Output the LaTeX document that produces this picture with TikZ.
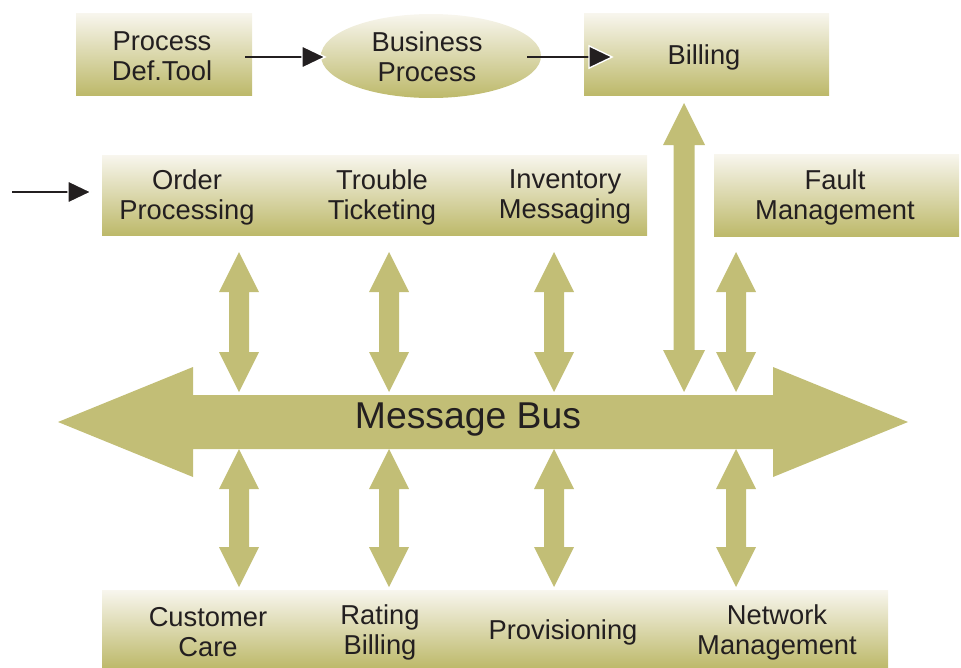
\documentclass[tikz,border=0pt]{standalone}
\usepackage{fontspec}
\setmainfont{Liberation Sans}
\usetikzlibrary{arrows.meta,shapes.geometric}
\definecolor{olive}{RGB}{194,190,118}
\definecolor{boxtop}{RGB}{248,246,238}
\definecolor{boxbot}{RGB}{189,185,106}
\definecolor{ink}{RGB}{35,31,32}
\begin{document}
\begin{tikzpicture}[x=0.75pt,y=-0.75pt,
  gbox/.style={top color=boxtop,bottom color=boxbot,draw=none,inner sep=0pt},
  lbl/.style={text=ink,font=\fontsize{20.5}{22.5}\selectfont,align=center,inner sep=0pt},
  fat/.style={fill=olive,draw=none},
  flowarrow/.style={draw=ink,line width=1.2pt,-{Triangle[length=19pt,width=18pt,fill=ink,color=white,line width=1pt]}},
]
\useasboundingbox (0,0) rectangle (961,668);

% boxes
\node[gbox,minimum width=132pt,minimum height=61.5pt] (pdt) at (164,54) {};
\node[gbox,ellipse,minimum width=165pt,minimum height=63pt] (bp) at (431,56) {};
\node[gbox,minimum width=183.75pt,minimum height=61.5pt] (bill) at (706.5,54) {};
\node[gbox,minimum width=408.75pt,minimum height=60pt] (row) at (374.5,195) {};
\node[gbox,minimum width=183.75pt,minimum height=61.5pt] (fault) at (836.5,195) {};
\node[gbox,minimum width=589.5pt,minimum height=58.5pt] (bot) at (495,629) {};

% labels
\node[lbl] (pdtl) at (162,56) {Process\\Def.Tool};
\node[lbl] (bpl) at (427,57) {Business\\Process};
\node[lbl] (billl) at (704,57) {Billing};
\node[lbl] (ord) at (187,197) {Order\\Processing};
\node[lbl] (tt) at (382,197) {Trouble\\Ticketing};
\node[lbl] (inv) at (565,197) {Inventory\\Messaging};
\node[lbl] (faultl) at (835,197) {Fault\\Management};
\node[lbl] (cc) at (208,632) {Customer\\Care};
\node[lbl] (rb) at (380,632) {Rating\\Billing};
\node[lbl] (prov) at (563,632) {Provisioning};
\node[lbl] (nm) at (777,632) {Network\\Management};

% message bus
\path[fat] (58,422) -- (193,367) -- (193,395) -- (773,395) -- (773,367) -- (908,422)
  -- (773,477) -- (773,449) -- (193,449) -- (193,477) -- cycle;
\node[text=ink,font=\fontsize{28}{32}\selectfont,inner sep=0pt] (bus) at (468,420) {Message Bus};

% fat double arrows
\foreach \c/\t/\b in {239/252/392, 389/252/392, 554/252/392, 736/252/392,
                      239/449/587, 389/449/587, 554/449/587, 736/449/587}{
  \path[fat] (\c,\t) -- (\c+20,\t+40) -- (\c+10,\t+40) -- (\c+10,\b-40) -- (\c+20,\b-40)
    -- (\c,\b) -- (\c-20,\b-40) -- (\c-10,\b-40) -- (\c-10,\t+40) -- (\c-20,\t+40) -- cycle;
}
\path[fat] (684,103) -- (705,145) -- (694.5,145) -- (694.5,350) -- (705,350)
  -- (684,392) -- (663,350) -- (673.5,350) -- (673.5,145) -- (663,145) -- cycle;

% thin arrows
\coordinate (a1) at ([xshift=-5.25pt,yshift=-2.25pt]pdt.east);
\draw[flowarrow] (a1) -- ([xshift=4.5pt]a1 -| bp.west);
\coordinate (a2) at ([xshift=-10.5pt,yshift=-0.75pt]bp.east);
\draw[flowarrow] (a2) -- ([xshift=22.5pt]a2 -| bill.west);
\coordinate (in) at (12,192);
\draw[flowarrow,shorten >=6.75pt] (in) -- (in -| row.west);
\end{tikzpicture}
\end{document}
